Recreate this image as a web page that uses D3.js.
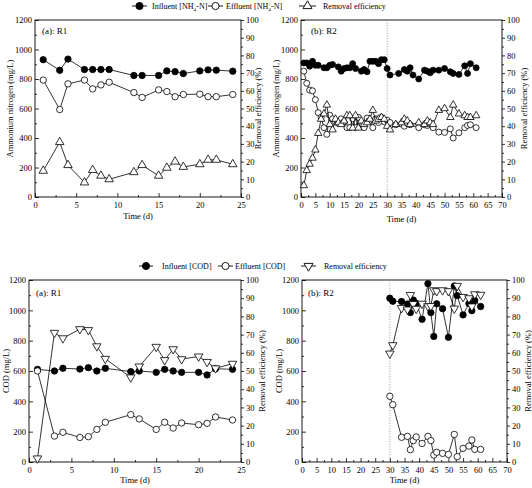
<!DOCTYPE html>
<html><head><meta charset="utf-8">
<script src="https://cdn.jsdelivr.net/npm/d3@7"></script>
<style>body{margin:0;background:#fff}</style>
</head><body><svg id="c" width="532" height="488" font-family="'Liberation Serif','Times New Roman',serif"></svg>
<script>
// ---------- DATA ----------
// R1 ammonium (mg/L) and removal (%)
const r1NhDays     = [1,3,4,6,7,8,9,12,13,15,16,17,18,20,21,22,24];
const r1NhInfluent = [931,859,935,864,864,864,864,824,824,824,855,850,837,855,862,860,853];
const r1NhEffluent = [793,593,767,793,733,760,778,708,675,726,715,680,695,697,680,680,695];
const r1NhRemoval  = [14.8,31,18,8.2,15.2,12,10,14,18,12,16.5,20,17,18.5,21,21,18.5];

// R2 ammonium
const r2NhInfDays  = [1,2,3,4,5,6,8,9,10,11,13,14,15,16,17,18,19,21,22,23,24,25,26,27,28,29,30,31,34,36,37,38,39,41,43,44,45,46,48,50,52,53,55,57,58,59,61];
const r2NhInfluent = [909,909,887,920,893,893,876,876,893,898,882,853,871,876,876,904,871,853,864,849,920,920,920,904,931,931,871,827,838,864,853,876,827,800,860,853,842,860,860,871,849,838,831,889,838,904,876];
const r2NhDays     = [1,2,3,4,5,6,7,8,9,10,11,12,13,14,15,16,17,18,19,20,21,22,23,24,25,26,27,28,29,30,31,33,35,36,37,38,41,43,44,45,46,48,50,52,53,55,57,58,59,61];
const r2NhEffluent = [853,771,725,720,660,572,540,470,425,555,530,510,500,530,510,470,470,530,470,540,500,470,535,520,470,530,505,540,510,520,505,490,495,480,500,490,470,490,485,500,470,440,438,462,400,435,470,485,490,470];
const r2NhRemoval  = [6.5,15,18.6,22,26.6,36,44,47,52,41,38,44,42,41,43,46,46,39,46,39,43,41,42,44,49,43,44,45,44,40,38,41,42,44,43,41,42,41,43,42,41,49,50,45,52,47,46,45,45,46];

// R1 COD
const r1CodDays     = [1,3,4,6,7,8,9,12,13,15,16,17,18,20,21,22,24];
const r1CodInfluent = [611,600,618,613,622,600,618,596,600,591,611,600,591,591,574,615,611];
const r1CodEffluent = [600,171,196,162,167,215,262,312,284,215,262,224,257,246,255,297,277];
const r1CodRemoval  = [2,71,68,73,72.5,63.6,56.7,46.5,52.5,63.3,56,62,56.5,58,55,51.5,54];

// R2 COD
const r2CodDays     = [30,31,34,36,37,38,39,41,43,44,45,46,48,50,52,53,55,57,58,59,61];
const r2CodInfluent = [1080,1060,1058,1042,985,1068,1046,941,1176,985,828,1043,1011,822,1160,1097,970,1045,998,1065,1025];
const r2CodEffluent = [433,378,163,169,81,141,165,122,169,141,46,64,57,50,182,35,90,105,145,83,83];
const r2CodRemoval  = [59.6,64.2,84.6,83.8,91.8,86.8,84.2,87,85.6,85.7,94.4,93.9,94.4,93.9,84.3,96.8,90.7,90,85.5,92.2,91.9];

// tick values
const leftTicks  = [0,200,400,600,800,1000,1200];
const rightTicks = [0,10,20,30,40,50,60,70,80,90,100];

// ---------- DRAW ----------
const svg = d3.select('#c');
const FS = 8.5;
const FONT = "'Liberation Serif','Times New Roman',serif";

function triPath(up, s){
  const h = s*Math.sqrt(3)/2;
  return up ? `M0,${-2*h/3}L${s/2},${h/3}L${-s/2},${h/3}Z`
            : `M0,${2*h/3}L${s/2},${-h/3}L${-s/2},${-h/3}Z`;
}

function styleAxis(g){
  g.attr('font-family',FONT).attr('font-size',FS);
  g.select('.domain').remove();
  g.selectAll('line').attr('stroke','#000').attr('stroke-width',0.8);
  g.selectAll('text').attr('fill','#000');
}

function series(g, x, ys, days, vals, mk, fill, size){
  const pts = days.map((d,i)=>[x(d), ys(vals[i])]);
  g.append('path').attr('d', d3.line()(pts)).attr('fill','none').attr('stroke','#000').attr('stroke-width',0.8);
  pts.forEach(p=>{
    if(mk==='circle'){
      g.append('circle').attr('cx',p[0]).attr('cy',p[1]).attr('r',size)
        .attr('fill',fill).attr('stroke','#000').attr('stroke-width',0.8);
    } else {
      g.append('path').attr('d',triPath(mk==='up',size)).attr('transform',`translate(${p[0]},${p[1]})`)
        .attr('fill','#fff').attr('stroke','#000').attr('stroke-width',0.8);
    }
  });
}

function panel(o){
  const g = svg.append('g');
  const x = d3.scaleLinear().domain([0,o.xMax]).range([o.l,o.r]);
  const y = d3.scaleLinear().domain([0,1200]).range([o.b,o.t]);
  const y2 = d3.scaleLinear().domain([0,100]).range([o.b,o.t]);
  const fmt = d3.format('d');

  // minor ticks
  g.append('g').attr('transform',`translate(${o.l},0)`).call(d3.axisLeft(y).tickValues(d3.range(100,1200,200)).tickSize(-2).tickFormat('')).call(styleAxis);
  g.append('g').attr('transform',`translate(${o.r},0)`).call(d3.axisRight(y2).tickValues(d3.range(5,100,10)).tickSize(2).tickFormat('')).call(styleAxis);
  g.append('g').attr('transform',`translate(0,${o.b})`).call(d3.axisBottom(x).tickValues(d3.range(2.5,o.xMax,5)).tickSize(-2).tickFormat('')).call(styleAxis);

  g.append('g').attr('transform',`translate(${o.l},0)`).call(d3.axisLeft(y).tickValues(leftTicks).tickSize(-4).tickPadding(3).tickFormat(fmt)).call(styleAxis);
  g.append('g').attr('transform',`translate(${o.r},0)`).call(d3.axisRight(y2).tickValues(rightTicks).tickSize(3).tickPadding(2).tickFormat(fmt)).call(styleAxis);
  g.append('g').attr('transform',`translate(0,${o.b})`).call(d3.axisBottom(x).tickValues(d3.range(0,o.xMax+0.1,5)).tickSize(-4).tickPadding(5).tickFormat(fmt)).call(styleAxis);

  g.append('rect').attr('x',o.l).attr('y',o.t).attr('width',o.r-o.l).attr('height',o.b-o.t)
    .attr('fill','none').attr('stroke','#000').attr('stroke-width',0.9);

  if(o.vline){
    g.append('line').attr('x1',x(30)).attr('x2',x(30)).attr('y1',o.t).attr('y2',o.b)
      .attr('stroke','#777').attr('stroke-width',0.7).attr('stroke-dasharray','1,1.6');
  }

  // titles
  g.append('text').attr('x',(o.l+o.r)/2).attr('y',o.tb).attr('text-anchor','middle').attr('font-size',FS).text('Time (d)');
  g.append('text').attr('transform',`translate(${o.lx},${(o.t+o.b)/2}) rotate(-90)`).attr('text-anchor','middle')
    .attr('dominant-baseline','central').attr('font-size',FS).text(o.ltitle);
  g.append('text').attr('transform',`translate(${o.rx},${(o.t+o.b)/2}) rotate(-90)`).attr('text-anchor','middle')
    .attr('dominant-baseline','central').attr('font-size',FS).text('Removal efficiency (%)');
  g.append('text').attr('x',o.lab[0]).attr('y',o.lab[1]).attr('font-size',FS+0.5).text(o.label);

  o.draw(g, x, y, y2);
}

const S1 = {c:3.2, t:8.5}, S2 = {c:3.0, t:7.5};

panel({l:35,r:241,t:20,b:197,xMax:25,tb:219,lx:10,rx:258,ltitle:'Ammonium nitrogen (mg/L)',label:'(a): R1',lab:[42,34],
  draw:(g,x,y,y2)=>{
    series(g,x,y,r1NhDays,r1NhInfluent,'circle','#000',S1.c);
    series(g,x,y,r1NhDays,r1NhEffluent,'circle','#fff',S1.c);
    series(g,x,y2,r1NhDays,r1NhRemoval,'up','#fff',S1.t);
  }});
panel({l:301,r:502,t:20,b:197,xMax:70,vline:true,tb:222,lx:276,rx:524,ltitle:'Ammonium nitrogen (mg/L)',label:'(b): R2',lab:[311,34],
  draw:(g,x,y,y2)=>{
    series(g,x,y,r2NhInfDays,r2NhInfluent,'circle','#000',S2.c);
    series(g,x,y,r2NhDays,r2NhEffluent,'circle','#fff',S2.c);
    series(g,x,y2,r2NhDays,r2NhRemoval,'up','#fff',S2.t);
  }});
panel({l:29,r:241,t:280,b:462,xMax:25,tb:483,lx:6,rx:262,ltitle:'COD (mg/L)',label:'(a): R1',lab:[36,296],
  draw:(g,x,y,y2)=>{
    series(g,x,y,r1CodDays,r1CodInfluent,'circle','#000',S1.c);
    series(g,x,y,r1CodDays,r1CodEffluent,'circle','#fff',S1.c);
    series(g,x,y2,r1CodDays,r1CodRemoval,'down','#fff',S1.t);
  }});
panel({l:302,r:507,t:280,b:462,xMax:70,vline:true,tb:483,lx:279,rx:528,ltitle:'COD (mg/L)',label:'(b): R2',lab:[308,296],
  draw:(g,x,y,y2)=>{
    series(g,x,y,r2CodDays,r2CodInfluent,'circle','#000',S1.c);
    series(g,x,y,r2CodDays,r2CodEffluent,'circle','#fff',S1.c);
    series(g,x,y2,r2CodDays,r2CodRemoval,'down','#fff',S1.t);
  }});

// ---------- LEGENDS ----------
const LFS = 8;
function legItem(x0, x1, yy, mk, fill){
  svg.append('line').attr('x1',x0).attr('x2',x1).attr('y1',yy).attr('y2',yy).attr('stroke','#000').attr('stroke-width',0.9);
  const cx=(x0+x1)/2;
  if(mk==='circle') svg.append('circle').attr('cx',cx).attr('cy',yy).attr('r',3.6).attr('fill',fill).attr('stroke','#000').attr('stroke-width',0.9);
  else svg.append('path').attr('d',triPath(mk==='up',9)).attr('transform',`translate(${cx},${yy})`).attr('fill','#fff').attr('stroke','#000').attr('stroke-width',0.9);
}
function nhText(x0, yy, word){
  const t = svg.append('text').attr('x',x0).attr('y',yy+3).attr('font-size',LFS);
  t.append('tspan').text(word+' [NH');
  t.append('tspan').attr('font-size',5).attr('dy',2).text('4');
  t.append('tspan').attr('font-size',5).attr('dx',-2.6).attr('dy',-5.5).text('+');
  t.append('tspan').attr('dy',3.5).text('-N]');
}
legItem(132,147,6,'circle','#000'); nhText(152,6,'Influent');
legItem(208,223,6,'circle','#fff'); nhText(226,6,'Effluent');
legItem(299,316,6,'up'); svg.append('text').attr('x',323).attr('y',9).attr('font-size',LFS).text('Removal efficiency');

legItem(139,153,266,'circle','#000'); svg.append('text').attr('x',162).attr('y',269).attr('font-size',LFS).text('Influent [COD]');
legItem(218,233,266,'circle','#fff'); svg.append('text').attr('x',235).attr('y',269).attr('font-size',LFS).text('Effluent [COD]');
legItem(301,316,266,'down'); svg.append('text').attr('x',324).attr('y',269).attr('font-size',LFS).text('Removal efficiency');
</script></body></html>
